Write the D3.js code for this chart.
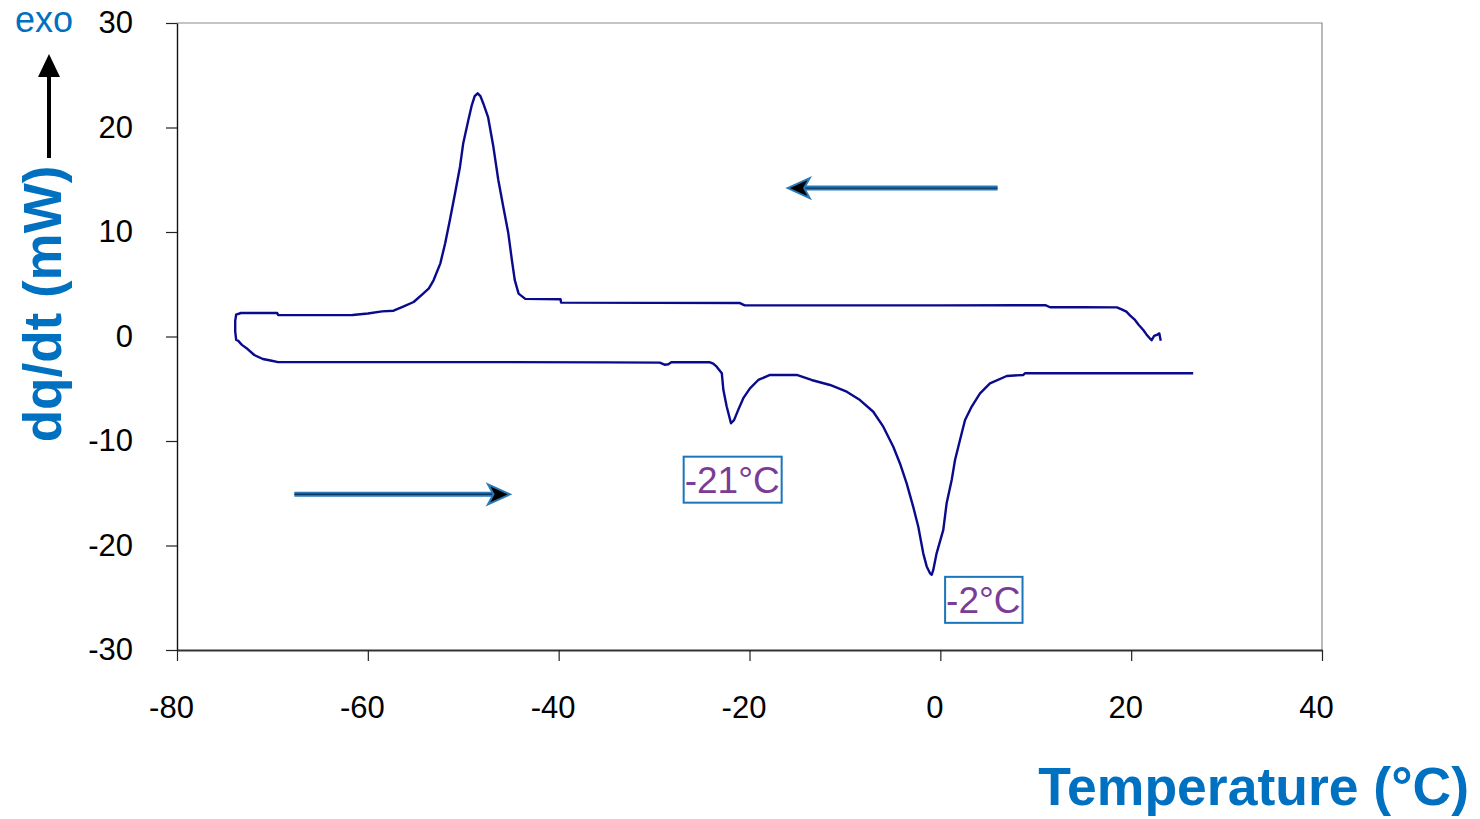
<!DOCTYPE html>
<html>
<head>
<meta charset="utf-8">
<script src="https://cdn.jsdelivr.net/npm/d3@7"></script>
<style>
  html, body { margin: 0; padding: 0; background: #fff; }
  svg { display: block; font-family: "Liberation Sans", Arial, sans-serif; }
</style>
</head>
<body>
<svg id="chart" width="1480" height="819"></svg>
<script>
// cooling run (upper branch), read from right to left
const coolingT = [23.1, 22.95, 22.7, 22.4, 22.15, 21.97, 21.6, 21.27, 20.8, 20.4, 19.9, 19.5, 19.0, 18.5,
  15, 11.5, 11.0, 0, -10, -20.5, -21, -30, -39.75, -39.8, -43.5, -44.2, -44.6, -44.9, -45.28, -45.8,
  -46.33, -46.85, -47.4, -47.9, -48.2, -48.49, -48.8, -49.1, -49.47, -50.0, -50.34, -50.86, -51.4,
  -51.9, -52.4, -53.1, -53.6, -54.2, -55.2, -56.3, -57.3, -58.5, -60.0, -61.6, -66, -69.4, -69.5,
  -73.3, -73.8, -73.9, -73.9, -73.8];
const coolingV = [-0.4, 0.3, 0.15, 0.05, -0.35, -0.2, 0.2, 0.62, 1.1, 1.58, 2.0, 2.38, 2.6, 2.79,
  2.8, 2.8, 3.0, 2.98, 2.98, 2.98, 3.2, 3.22, 3.24, 3.56, 3.6, 4.1, 5.4, 7.3, 9.9, 12.4,
  15.0, 18.2, 21.0, 22.3, 23.0, 23.27, 23.0, 22.15, 20.7, 18.5, 16.25, 13.7, 11.15,
  8.9, 7.0, 5.4, 4.6, 4.1, 3.3, 2.85, 2.47, 2.4, 2.2, 2.06, 2.05, 2.05, 2.25,
  2.25, 2.1, 1.5, 0.5, -0.33];

// heating run (lower branch), left to right
const heatingT = [-73.6, -73.2, -72.6, -71.9, -71.0, -70.2, -69.4, -60, -45, -35, -29.4, -28.9, -28.5,
  -28.2, -24.14, -23.8, -23.44, -22.9, -22.74, -22.39, -21.94, -21.62, -21.17, -20.65, -19.95,
  -19.08, -17.85, -15.05, -13.5, -11.56, -9.81, -8.42, -7.03, -5.98, -4.93, -4.23, -3.53, -2.84,
  -2.31, -1.79, -1.43, -1.08, -0.9, -0.74, -0.39, 0.31, 0.66, 1.19, 1.54, 2.06, 2.59, 3.29, 4.16,
  5.2, 6.96, 8.7, 8.87, 18, 26.5];
const heatingV = [-0.4, -0.8, -1.2, -1.77, -2.15, -2.3, -2.45, -2.45, -2.45, -2.48, -2.5, -2.7, -2.65,
  -2.47, -2.47, -2.6, -2.89, -3.52, -5.1, -6.7, -8.3, -8.0, -7.0, -5.9, -4.96,
  -4.16, -3.68, -3.68, -4.16, -4.64, -5.28, -6.08, -7.2, -8.63, -10.55, -12.15, -14.05, -16.3,
  -18.2, -20.75, -22.0, -22.66, -22.8, -22.34, -20.75, -18.5, -15.96, -13.73, -11.82, -9.9, -7.99, -6.7, -5.44,
  -4.48, -3.78, -3.68, -3.52, -3.52, -3.52];

const xTicks = [-80, -60, -40, -20, 0, 20, 40];
const yTicks = [-30, -20, -10, 0, 10, 20, 30];

// peak labels: text, left temperature, top value
const peakLabels = ['-21°C', '-2°C'];
const peakLabelT = [-26.9, 0.5];
const peakLabelV = [-11.5, -23.0];

// direction arrows: from T, to T, value
const arrowFromT = [6.0, -67.7];
const arrowToT = [-16.0, -45.1];
const arrowV = [14.2, -15.1];

const margin = {top: 23, right: 158, bottom: 169, left: 177};
const W = 1480, H = 819;
const width = W - margin.left - margin.right;
const height = H - margin.top - margin.bottom;

const blue = '#0070c0';
const arrowBlue = '#2a7ab8';
const fontFam = '"Liberation Sans", Arial, sans-serif';

const svg = d3.select('#chart');
const g = svg.append('g')
    .attr('transform', 'translate(' + margin.left + ',' + margin.top + ')');

const x = d3.scaleLinear().domain([-80, 40]).range([0, width]);
const y = d3.scaleLinear().domain([-30, 30]).range([height, 0]);

// frame top and right
g.append('path')
    .attr('d', 'M0,0H' + width + 'V' + height)
    .attr('fill', 'none')
    .attr('stroke', '#8a8a8a')
    .attr('stroke-width', 1.2);

const xAxis = g.append('g')
    .attr('transform', 'translate(0,' + height + ')')
    .call(d3.axisBottom(x).tickValues(xTicks).tickFormat(d => String(d))
      .tickSize(11).tickSizeOuter(0).tickPadding(35));
xAxis.select('.domain').attr('stroke', '#333').attr('stroke-width', 2);
xAxis.selectAll('.tick line').attr('stroke', '#222').attr('stroke-width', 1.2);
xAxis.selectAll('text')
    .attr('font-size', 31)
    .attr('font-family', fontFam)
    .attr('fill', '#000')
    .attr('dx', -6);

const yAxis = g.append('g')
    .call(d3.axisLeft(y).tickValues(yTicks).tickFormat(d => String(d))
      .tickSize(11).tickSizeOuter(0).tickPadding(33));
yAxis.select('.domain').attr('stroke', '#111').attr('stroke-width', 1.4);
yAxis.selectAll('.tick line').attr('stroke', '#222').attr('stroke-width', 1.2);
yAxis.selectAll('text')
    .attr('font-size', 31)
    .attr('font-family', fontFam)
    .attr('fill', '#000');

// DSC loop: cooling branch then heating branch
const loop = coolingT.map((t, i) => [t, coolingV[i]])
    .concat(heatingT.map((t, i) => [t, heatingV[i]]));
const line = d3.line().x(d => x(d[0])).y(d => y(d[1]));
g.append('path')
    .datum(loop)
    .attr('d', line)
    .attr('fill', 'none')
    .attr('stroke', '#0a0a8c')
    .attr('stroke-width', 2.4)
    .attr('stroke-linejoin', 'round');

// direction arrows
arrowFromT.forEach((t0, i) => {
  const x0 = x(t0), x1 = x(arrowToT[i]), yy = y(arrowV[i]);
  const dir = x1 > x0 ? 1 : -1;
  const headLen = 22, headHalf = 10;
  const a = g.append('g');
  a.append('line')
      .attr('x1', x0).attr('x2', x1 - dir * headLen * 0.6)
      .attr('y1', yy).attr('y2', yy)
      .attr('stroke', arrowBlue).attr('stroke-width', 5);
  a.append('line')
      .attr('x1', x0).attr('x2', x1 - dir * headLen * 0.6)
      .attr('y1', yy).attr('y2', yy)
      .attr('stroke', '#0b3563').attr('stroke-width', 1.4);
  a.append('polygon')
      .attr('points', [[x1, yy], [x1 - dir * headLen, yy - headHalf],
        [x1 - dir * headLen * 0.75, yy], [x1 - dir * headLen, yy + headHalf]].join(' '))
      .attr('fill', '#000')
      .attr('stroke', arrowBlue)
      .attr('stroke-width', 2)
      .attr('stroke-linejoin', 'miter');
});

// peak temperature labels in boxes
peakLabels.forEach((txt, i) => {
  const bx = x(peakLabelT[i]), by = y(peakLabelV[i]);
  const box = g.append('rect')
      .attr('x', bx)
      .attr('y', by)
      .attr('height', 46)
      .attr('fill', '#fff')
      .attr('stroke', '#1a75bb')
      .attr('stroke-width', 2);
  const t = g.append('text')
      .attr('x', bx + 1)
      .attr('y', by + 36)
      .attr('font-size', 37)
      .attr('fill', '#7a3c96')
      .text(txt);
  box.attr('width', t.node().getBBox().width + 3);
});

// y axis title with exo arrow
svg.append('text')
    .attr('transform', 'translate(61,304) rotate(-90)')
    .attr('text-anchor', 'middle')
    .attr('font-size', 53)
    .attr('font-weight', 'bold')
    .attr('fill', blue)
    .text('dq/dt (mW)');

svg.append('line')
    .attr('x1', 49).attr('x2', 49)
    .attr('y1', 158).attr('y2', 72)
    .attr('stroke', '#000').attr('stroke-width', 4);
svg.append('polygon')
    .attr('points', '49,54 38,77 60,77')
    .attr('fill', '#000');

svg.append('text')
    .attr('x', 15).attr('y', 32)
    .attr('font-size', 36)
    .attr('fill', blue)
    .text('exo');

// x axis title
svg.append('text')
    .attr('x', 1469).attr('y', 805)
    .attr('text-anchor', 'end')
    .attr('font-size', 53.5)
    .attr('font-weight', 'bold')
    .attr('fill', blue)
    .text('Temperature (°C)');
</script>
</body>
</html>
